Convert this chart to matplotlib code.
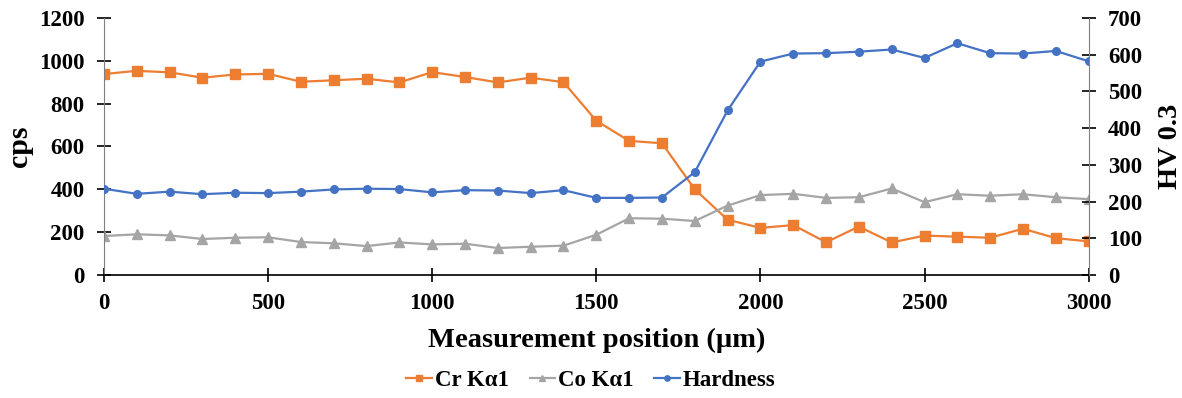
import matplotlib.pyplot as plt

plt.rcParams['font.family'] = ['Liberation Serif', 'DejaVu Serif']
plt.rcParams['font.weight'] = 'bold'

position = list(range(0, 3001, 100))
cr_ka1 = [938, 953, 946, 921, 936, 939, 902, 909, 916, 899, 947, 924, 899, 921, 900,
          720, 626, 615, 400, 258, 220, 233, 153, 226, 152, 184, 179, 174, 216, 172, 157]
co_ka1 = [182, 190, 185, 168, 174, 176, 154, 148, 135, 152, 143, 146, 126, 132, 137,
          188, 265, 263, 252, 324, 373, 379, 360, 363, 404, 340, 377, 370, 377, 363, 354]
hardness = [235, 221, 227, 220, 224, 223, 227, 233, 235, 234, 225, 231, 230, 223, 231,
            210, 210, 211, 280, 448, 581, 603, 604, 608, 614, 591, 631, 604, 603, 610, 582]

fig = plt.figure(figsize=(11.82, 3.98), dpi=100)
ax = fig.add_axes([0.088, 0.309, 0.833, 0.646])
ax2 = ax.twinx()

l1, = ax.plot(position, cr_ka1, color='#ED7D31', marker='s', markersize=6.5, lw=1.6, label='Cr K\u03b11')
l2, = ax.plot(position, co_ka1, color='#A5A5A5', marker='^', markersize=6.5, lw=1.6, label='Co K\u03b11')
l3, = ax2.plot(position, hardness, color='#4472C4', marker='o', markersize=5.5, lw=1.6, label='Hardness')

ax.set_xlim(0, 3000)
ax.set_ylim(0, 1200)
ax2.set_ylim(0, 700)
ax.set_xticks(range(0, 3001, 500))
ax.set_yticks(range(0, 1201, 200))
ax2.set_yticks(range(0, 701, 100))

for a in (ax, ax2):
    a.spines['top'].set_visible(False)
    a.tick_params(direction='inout', length=10, width=1.2, labelsize=16.5, color='black')
ax.tick_params(axis='y', pad=9)
ax.tick_params(axis='x', pad=8)
ax2.tick_params(axis='y', pad=9)
ax.spines['left'].set_color('#7f7f7f')
ax2.spines['right'].set_color('#7f7f7f')
ax2.spines['left'].set_visible(False)
ax2.spines['bottom'].set_visible(False)
ax.spines['bottom'].set_linewidth(1.2)
ax.spines['right'].set_visible(False)

ax.set_ylabel('cps', fontsize=21.5, fontweight='bold', labelpad=4)
ax2.set_ylabel('HV 0.3', fontsize=20.5, fontweight='bold', labelpad=11)
ax.set_xlabel('Measurement position (\u00b5m)', fontsize=20.5, fontweight='bold', labelpad=10)

fig.legend(handles=[l1, l2, l3], loc='center', bbox_to_anchor=(0.5, 0.043), ncol=3,
           frameon=False, fontsize=16.5, handlelength=1.1, handletextpad=0.15, columnspacing=0.9,
           markerscale=0.7)

fig.savefig('out.png', dpi=100)
